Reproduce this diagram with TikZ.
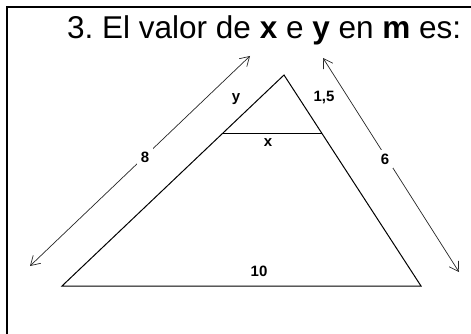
\documentclass[tikz,border=0pt]{standalone}
\usepackage{fontspec}
\setmainfont{Liberation Sans}
\usetikzlibrary{arrows.meta}
\tikzset{
  side/.style={draw=black, line width=1pt},
  dim/.style={draw=black!85, line width=0.7pt, {Straight Barb[length=9pt,width=11pt]}-{Straight Barb[length=9pt,width=11pt]}},
  lbl/.style={font=\fontsize{15}{15}\selectfont\bfseries, inner sep=0pt},
  gaplbl/.style={lbl, fill=white, inner sep=4pt}
}
\begin{document}
\frenchspacing
\begin{tikzpicture}[x=1pt,y=-1pt]
\useasboundingbox (0,0) rectangle (471,334);
\draw[line width=1.4pt] (7,345) -- (7,7) -- (480,7);
\node[anchor=base west, inner sep=0pt, font=\fontsize{31.5}{31.5}\selectfont] (title) at (67,39) {3. El valor de \textbf{x} e \textbf{y} en \textbf{m} es:};
% triangle
\coordinate (A) at (284,75);
\coordinate (B) at (62,286);
\coordinate (C) at (421,286);
\coordinate (P) at (222,134);
\coordinate (Q) at (322,134);
\draw[side] (B) -- (A) -- (C) -- cycle;
\draw[side] (P) -- (Q);
% dimension arrows
\coordinate (e1) at (30,266);
\coordinate (e2) at (250,56);
\coordinate (f1) at (323,58);
\coordinate (f2) at (459,272);
\draw[dim] (e1) -- (e2);
\draw[dim] (f1) -- (f2);
\node[gaplbl] (l8) at (145,157) {8};
\node[gaplbl] (l6) at (385,159) {6};
% labels
\node[lbl] (ly) at (236,99) {y};
\node[lbl] (l15) at (324,98) {1,5};
\node[lbl] (lx) at (268,143) {x};
\node[lbl] (l10) at (259,271) {10};
\end{tikzpicture}
\end{document}
